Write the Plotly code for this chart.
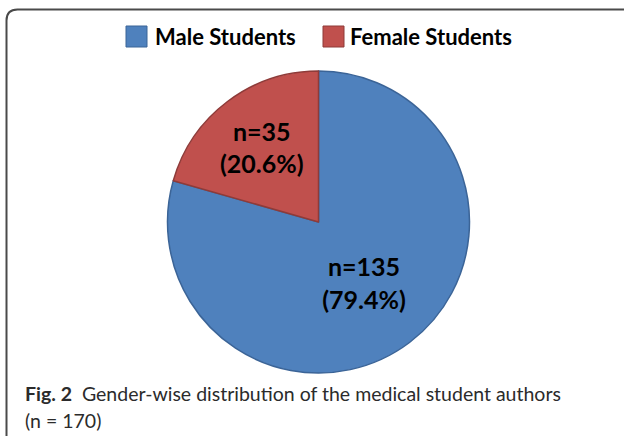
import plotly.graph_objects as go

categories = ["Male Students", "Female Students"]
counts = [135, 35]
colors = ["#4F81BD", "#C0504D"]
edge_colors = ["#3B6497", "#8E3B39"]
caption_bold = "Fig. 2"
caption_line1 = "Gender-wise distribution of the medical student authors"
caption_line2 = "(n = 170)"

W, H = 624, 436
cx, cy, r = 318.5, 222, 151

def px(x):
    return x / W

def py(y):
    return 1 - y / H

fig = go.Figure()
fig.add_trace(go.Pie(
    labels=categories,
    values=counts,
    sort=False,
    direction="clockwise",
    rotation=0,
    marker=dict(colors=colors, line=dict(color=edge_colors, width=1.5)),
    texttemplate="n=%{value}<br>(%{percent:.1%})",
    textposition="inside",
    insidetextorientation="horizontal",
    textfont=dict(family="Lato", size=25, color="black", weight="bold"),
    showlegend=False,
    domain=dict(x=[px(cx - r), px(cx + r)], y=[py(cy + r), py(cy - r)]),
    hoverinfo="label+value+percent",
))

shapes = []
# border (rounded top-left corner)
x0, yt, rr = 6.5, 9.5, 11
shapes.append(dict(
    type="path", xref="paper", yref="paper",
    path=f"M {px(x0)},{py(H+2)} L {px(x0)},{py(yt+rr)} Q {px(x0)},{py(yt)} {px(x0+rr)},{py(yt)} L {px(W+2)},{py(yt)}",
    line=dict(color="#4a4a4a", width=2),
))

# manual legend
legend_items = [(126, 153), (323, 348)]
annotations = []
for (sx, tx), name, col, ec in zip(legend_items, categories, colors, edge_colors):
    shapes.append(dict(type="rect", xref="paper", yref="paper",
                       x0=px(sx), x1=px(sx + 21), y0=py(47), y1=py(26),
                       fillcolor=col, line=dict(color=ec, width=1)))
    annotations.append(dict(x=px(tx), y=py(36.5), xref="paper", yref="paper",
                            xanchor="left", yanchor="middle", showarrow=False,
                            text=f"<b>{name}</b>",
                            font=dict(family="Lato", size=22, color="black")))

annotations.append(dict(x=px(23), y=py(393), xref="paper", yref="paper",
                        xanchor="left", yanchor="middle", showarrow=False, align="left",
                        text=f"<b>{caption_bold}</b>  {caption_line1}",
                        font=dict(family="Lato", size=19.5, color="#2b2b2b")))
annotations.append(dict(x=px(23), y=py(420), xref="paper", yref="paper",
                        xanchor="left", yanchor="middle", showarrow=False, align="left",
                        text=caption_line2,
                        font=dict(family="Lato", size=19.5, color="#2b2b2b")))

fig.update_layout(
    width=W, height=H,
    margin=dict(l=0, r=0, t=0, b=0),
    paper_bgcolor="white", plot_bgcolor="white",
    shapes=shapes, annotations=annotations,
)
fig.write_html("out.html", config={"displayModeBar": False},
               post_script="document.body.style.margin='0';document.body.style.padding='0';")
